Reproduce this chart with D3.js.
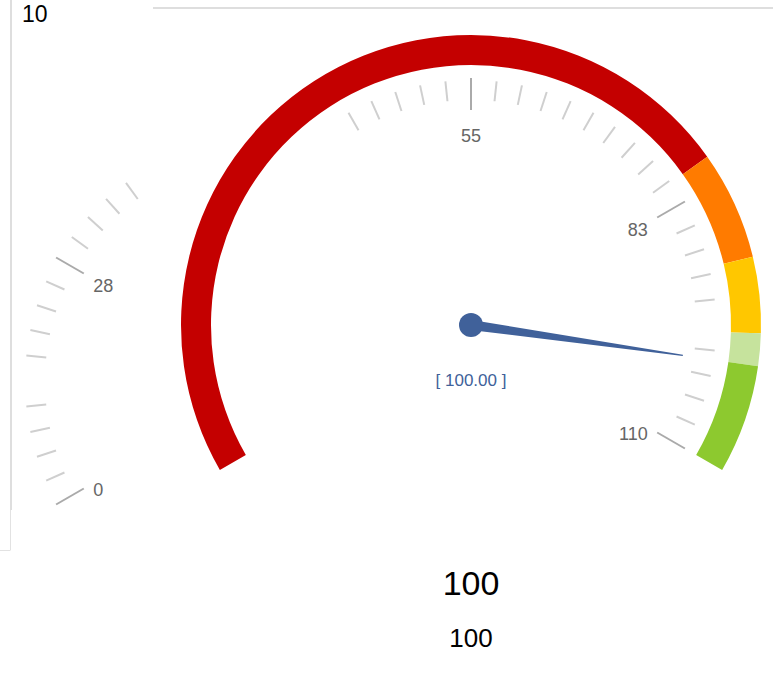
<!DOCTYPE html>
<html>
<head>
<meta charset="utf-8">
<script src="https://cdn.jsdelivr.net/npm/d3@7"></script>
<style>
  body { margin: 0; background: #fff; }
  text { font-family: "Liberation Sans", Arial, sans-serif; }
</style>
</head>
<body>
<div id="chart"></div>
<script>
var width = 773, height = 687;

// gauge data
var minValue = 0, maxValue = 110;
var gaugeValue = 100;
var bandStops = [80, 90, 97, 100, 110];
var bandColors = ["#c40000", "#ff7b00", "#ffc700", "#c6e39d", "#8dc92f"];
var majorValues = [0, 27.5, 55, 82.5, 110];
var majorLabels = ["0", "28", "55", "83", "110"];
var tickStep = 2.75;
var hiddenTicks = [13.75, 96.25];
var detailText = "[ 100.00 ]";
var titleTexts = ["100", "100"];
var cornerText = "10";

var center = {x: 471, y: 325};
var leftCopy = {x: 270, y: 381};   // second copy of the dial, inside the left panel
var outerR = 290, innerR = 260;

var svg = d3.select("#chart")
  .append("svg")
  .attr("width", width)
  .attr("height", height);

var defs = svg.append("defs");
defs.append("clipPath").attr("id", "panelClip")
  .append("rect").attr("x", 12).attr("y", 0).attr("width", 131).attr("height", 550);
defs.append("clipPath").attr("id", "mainClip")
  .append("rect").attr("x", 347).attr("y", 0).attr("width", width - 347).attr("height", height);

var angle = d3.scaleLinear()
  .domain([minValue, maxValue])
  .range([-2 * Math.PI / 3, 2 * Math.PI / 3]);

var tickValues = d3.range(minValue, maxValue + tickStep / 2, tickStep)
  .filter(function(v){
    return !hiddenTicks.some(function(h){ return Math.abs(h - v) < 1e-6; });
  });

function isMajor(v) {
  return majorValues.some(function(m){ return Math.abs(m - v) < 1e-6; });
}

// panel borders
svg.append("line").attr("x1", 11).attr("y1", 0).attr("x2", 11).attr("y2", 510)
  .style("stroke", "#dedede").style("stroke-width", 2);
svg.append("line").attr("x1", 10.5).attr("y1", 510).attr("x2", 10.5).attr("y2", 550)
  .style("stroke", "#e2e2e2").style("stroke-width", 1);
svg.append("line").attr("x1", 0).attr("y1", 550.5).attr("x2", 10.5).attr("y2", 550.5)
  .style("stroke", "#e2e2e2").style("stroke-width", 1);
svg.append("line").attr("x1", 153).attr("y1", 8).attr("x2", width).attr("y2", 8)
  .style("stroke", "#dedede").style("stroke-width", 2);

svg.append("text")
  .attr("x", 22).attr("y", 22)
  .style("font-size", "23px").style("fill", "#000")
  .text(cornerText);

// coloured band
var bands = bandStops.map(function(stop, i){
  return {from: i === 0 ? minValue : bandStops[i - 1], to: stop, color: bandColors[i]};
});
var arc = d3.arc().innerRadius(innerR).outerRadius(outerR);

var dial = svg.append("g")
  .attr("transform", "translate(" + center.x + "," + center.y + ")");

dial.selectAll("path.band")
  .data(bands)
  .enter().append("path")
  .attr("class", "band")
  .attr("d", function(d){ return arc({startAngle: angle(d.from), endAngle: angle(d.to)}); })
  .style("fill", function(d){ return d.color; });

// ticks + labels, drawn for a given centre
var drawScale = function(c, clipId) {
  var g = svg.append("g")
    .attr("clip-path", "url(#" + clipId + ")")
    .append("g")
    .attr("transform", "translate(" + c.x + "," + c.y + ")");

  g.selectAll("line.tick")
    .data(tickValues)
    .enter().append("line")
    .attr("x1", function(v){ return Math.sin(angle(v)) * (isMajor(v) ? 215 : 225); })
    .attr("y1", function(v){ return -Math.cos(angle(v)) * (isMajor(v) ? 215 : 225); })
    .attr("x2", function(v){ return Math.sin(angle(v)) * (isMajor(v) ? 247 : 245); })
    .attr("y2", function(v){ return -Math.cos(angle(v)) * (isMajor(v) ? 247 : 245); })
    .style("stroke", function(v){ return isMajor(v) ? "#aaaaaa" : "#cfcfcf"; })
    .style("stroke-width", 2);

  g.selectAll("text.label")
    .data(majorValues)
    .enter().append("text")
    .attr("x", function(v){ return Math.sin(angle(v)) * 204; })
    .attr("y", function(v){ return -Math.cos(angle(v)) * 204; })
    .attr("dy", function(v){ return -Math.cos(angle(v)) < -0.8 ? "1.15em" : "0.7em"; })
    .attr("text-anchor", function(v){
      var ux = Math.sin(angle(v));
      return ux > 0.4 ? "end" : (ux < -0.4 ? "start" : "middle");
    })
    .style("font-size", "18px")
    .style("fill", "#666")
    .text(function(v, i){ return majorLabels[i]; });
};

drawScale(center, "mainClip");
drawScale(leftCopy, "panelClip");

// needle
var a = angle(gaugeValue);
var needleLen = 214;
var needle = [[0, -5], [needleLen, -0.6], [needleLen, 0.6], [0, 5]];
var rot = a * 180 / Math.PI - 90;
dial.append("path")
  .attr("d", d3.line()(needle) + "Z")
  .attr("transform", "rotate(" + rot + ")")
  .style("fill", "#40619a");
dial.append("circle")
  .attr("r", 12)
  .style("fill", "#40619a");

dial.append("text")
  .attr("y", 61)
  .attr("text-anchor", "middle")
  .style("font-size", "17px")
  .style("fill", "#40619a")
  .text(detailText);

// titles under the dial
svg.selectAll("text.title")
  .data(titleTexts)
  .enter().append("text")
  .attr("class", "title")
  .attr("x", center.x)
  .attr("y", function(d, i){ return i === 0 ? 595 : 647; })
  .attr("text-anchor", "middle")
  .style("font-size", function(d, i){ return i === 0 ? "34px" : "26px"; })
  .style("fill", "#000")
  .text(function(d){ return d; });
</script>
</body>
</html>
